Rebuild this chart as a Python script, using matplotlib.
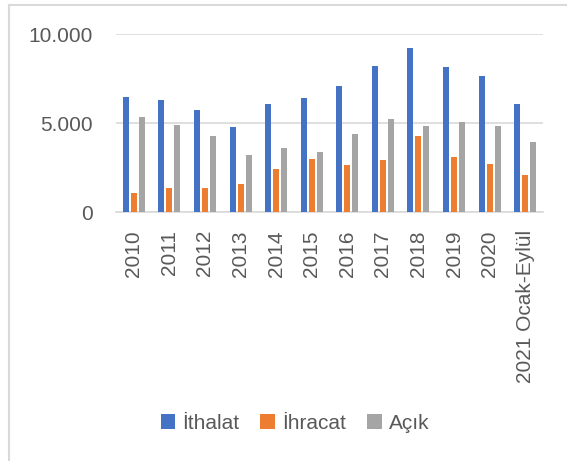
import numpy as np
import matplotlib
matplotlib.use("Agg")
import matplotlib.pyplot as plt
from matplotlib.ticker import FuncFormatter
from matplotlib.patches import Patch
from matplotlib.lines import Line2D

# data
categories = ['2010', '2011', '2012', '2013', '2014', '2015', '2016',
              '2017', '2018', '2019', '2020', '2021 Ocak-Eylül']
ithalat = [6480, 6290, 5710, 4790, 6050, 6400, 7100, 8180, 9200, 8170, 7620, 6090]
ihracat = [1090, 1350, 1370, 1570, 2420, 2980, 2660, 2920, 4270, 3090, 2700, 2080]
acik = [5340, 4870, 4270, 3180, 3580, 3350, 4360, 5210, 4830, 5040, 4830, 3950]

series_names = ['İthalat', 'İhracat', 'Açık']
colors = ['#4472C4', '#ED7D31', '#A5A5A5']
text_color = '#595959'
grid_color = '#D9D9D9'

plt.rcParams['font.family'] = ['Liberation Sans', 'DejaVu Sans']

W, H = 567, 461
fig = plt.figure(figsize=(W / 100, H / 100), dpi=100)
ax = fig.add_axes([116 / W, 1 - 212 / H, (543 - 116) / W, (212 - 34) / H])

x = np.arange(len(categories))
width = 0.17
offsets = [-0.225, 0, 0.225]
for vals, off, col in zip([ithalat, ihracat, acik], offsets, colors):
    ax.bar(x + off, vals, width, color=col, zorder=3)

ax.set_xlim(-0.5, len(categories) - 0.5)
ax.set_ylim(0, 10000)
ax.set_yticks([0, 5000, 10000])
ax.yaxis.set_major_formatter(FuncFormatter(lambda v, p: f"{int(v):,}".replace(',', '.')))
ax.set_xticks(x)
ax.set_xticklabels(categories, rotation=90)

ax.grid(axis='y', color=grid_color, linewidth=1.2, zorder=0)
ax.tick_params(axis='y', length=0, pad=17, labelsize=15, labelcolor=text_color)
ax.tick_params(axis='x', length=0, pad=13, labelsize=15, labelcolor=text_color)
for s in ['top', 'right', 'left']:
    ax.spines[s].set_visible(False)
ax.spines['bottom'].set_color(grid_color)
ax.spines['bottom'].set_linewidth(1.2)

handles = [Patch(facecolor=c) for c in colors]
fig.legend(handles, series_names, loc='center', bbox_to_anchor=(295 / W, 1 - 423 / H),
           ncol=3, frameon=False, fontsize=15, labelcolor=text_color,
           handlelength=0.7, handleheight=0.7, handletextpad=0.35, columnspacing=1.0)

# outer chart border (left and top edges visible)
fig.add_artist(Line2D([8.5 / W, 8.5 / W], [0, 1 - 5 / H], color=grid_color, linewidth=1.5))
fig.add_artist(Line2D([8.5 / W, 1], [1 - 5 / H, 1 - 5 / H], color=grid_color, linewidth=1.5))

fig.savefig('out.png', dpi=100)
